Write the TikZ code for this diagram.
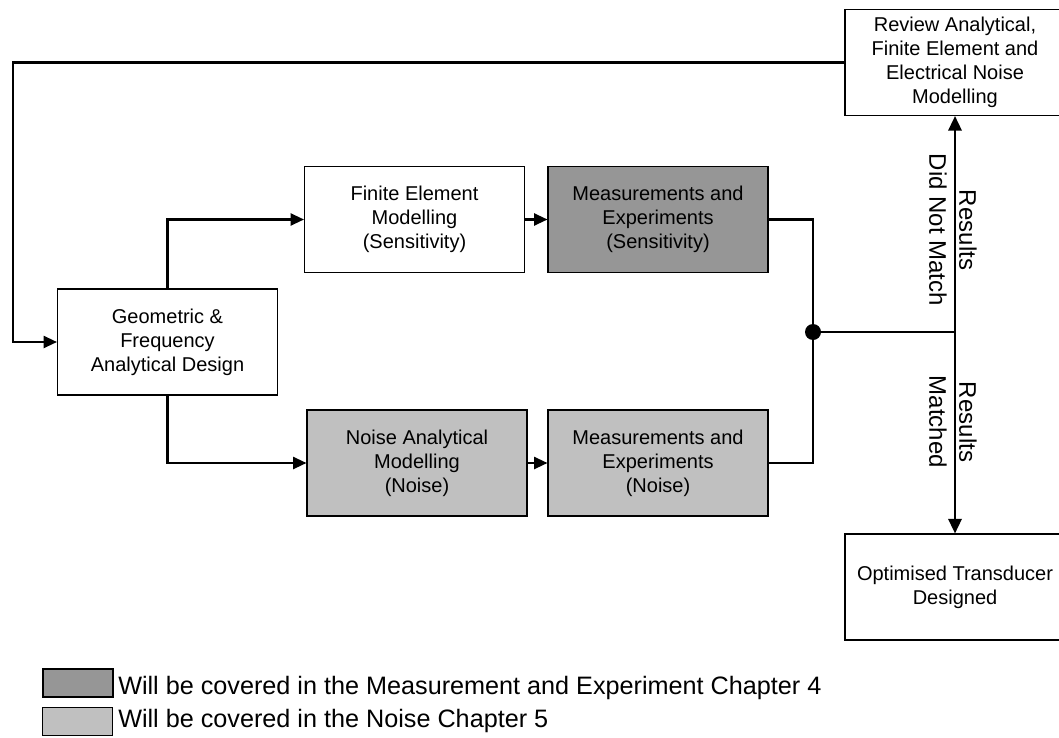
\documentclass[tikz,border=0pt]{standalone}
\usepackage{fontspec}
\setmainfont{Liberation Sans}
\usetikzlibrary{arrows.meta}
\definecolor{darkfill}{RGB}{150,150,150}
\definecolor{lightfill}{RGB}{192,192,192}
\begin{document}
\begin{tikzpicture}[x=0.75pt,y=-0.75pt,
  box/.style={draw, line width=0.8pt, minimum width=165pt, minimum height=79.5pt,
    align=center, inner sep=0pt, font=\fontsize{15}{18}\selectfont},
  legbox/.style={draw, line width=0.8pt, minimum width=52.5pt, minimum height=21pt, inner sep=0pt},
  legtext/.style={anchor=base west, inner sep=0pt, font=\fontsize{18.9}{22}\selectfont},
  lab/.style={rotate=-90, align=center, inner sep=0pt, font=\fontsize{18}{22.5}\selectfont},
  conn/.style={line width=1.6pt},
  arr/.style={conn, -{Triangle[length=10pt,width=9pt]}},
  biarr/.style={line width=1.8pt, -{Triangle[length=11pt,width=10pt]}}]
\useasboundingbox (0,0) rectangle (1059,738);

\node[box] (review) at (955,62.5) {Review Analytical,\\Finite Element and\\Electrical Noise\\Modelling};
\node[box] (fe) at (414.5,219.5) {Finite Element\\Modelling\\(Sensitivity)};
\node[box, fill=darkfill] (ms) at (658,219.5) {Measurements and\\Experiments\\(Sensitivity)};
\node[box] (geo) at (167.5,342) {Geometric \&\\Frequency\\Analytical Design};
\node[box, fill=lightfill] (na) at (417,463) {Noise Analytical\\Modelling\\(Noise)};
\node[box, fill=lightfill] (mn) at (658,463) {Measurements and\\Experiments\\(Noise)};
\node[box] (opt) at (955,587) {Optimised Transducer\\Designed};

\node[circle, fill, minimum size=12pt, inner sep=0pt] (dot) at (813,332) {};
\coordinate (j) at (955,332);
\coordinate (fbk) at (13,62.5);

\draw[arr] (review.west) -- (fbk) |- (geo.west);
\draw[arr] (geo.north) |- (fe.west);
\draw[arr] (geo.south) |- (na.west);
\draw[arr] (fe.east) -- (ms.west);
\draw[arr] (na.east) -- (mn.west);
\draw[conn] (ms.east) -| (dot.center) |- (mn.east);
\draw[conn] (dot.center) -- (j);
\draw[biarr] (j) -- (review.south);
\draw[biarr] (j) -- (opt.north);

\node[lab] (lab1) at (953,230) {Results\\Did Not Match};
\node[lab] (lab2) at (953,422) {Results\\Matched};

\node[legbox, fill=darkfill] (l1) at (78,683) {};
\node[legbox, fill=lightfill] (l2) at (77.5,721.5) {};
\node[legtext] (t1) at (118,694) {Will be covered in the Measurement and Experiment Chapter 4};
\node[legtext] (t2) at (118,727) {Will be covered in the Noise Chapter 5};
\end{tikzpicture}
\end{document}
